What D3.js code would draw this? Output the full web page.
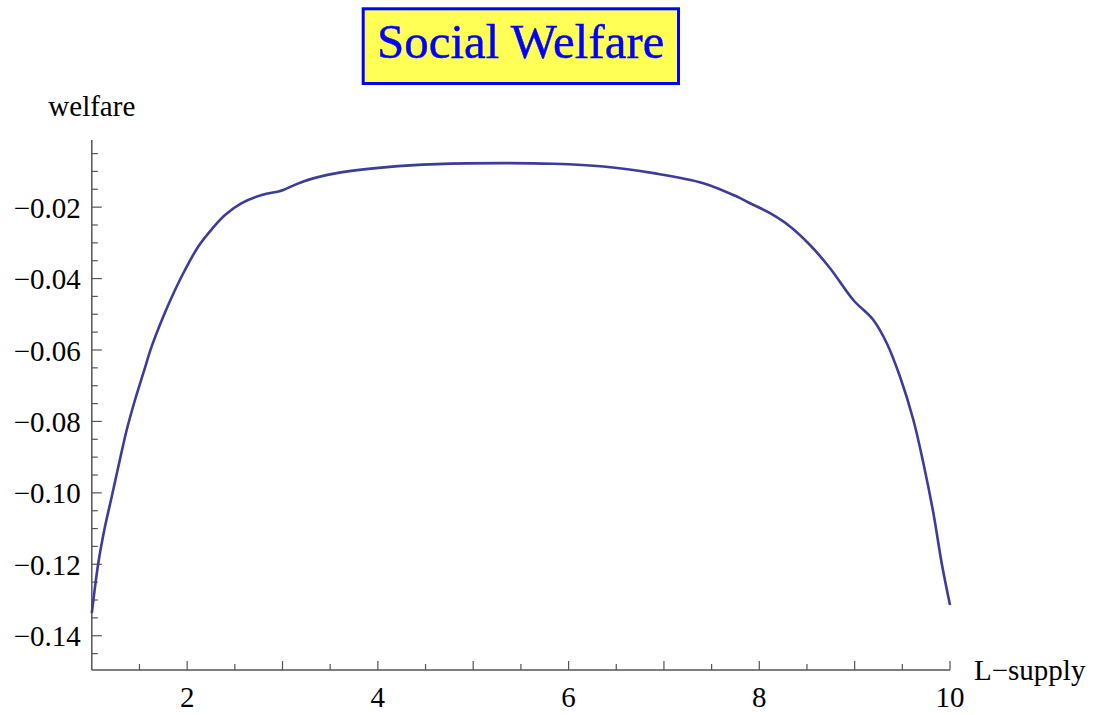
<!DOCTYPE html>
<html>
<head>
<meta charset="utf-8">
<script src="https://cdn.jsdelivr.net/npm/d3@7"></script>
<style>
  body { margin: 0; background: #fff; }
  svg text { font-family: "Liberation Serif", "DejaVu Serif", serif; }
</style>
</head>
<body>
<script>
// Valores (L-supply vs welfare)
const supply = [1.0, 1.068, 1.138, 1.209, 1.278, 1.366, 1.453, 1.54, 1.628, 1.75, 1.873, 1.977,
  2.117, 2.257, 2.397, 2.572, 2.782, 2.956, 3.008, 3.218, 3.568, 4.093, 4.617, 5.316, 5.84,
  6.364, 6.889, 7.413, 7.764, 7.903, 8.113, 8.322, 8.532, 8.742, 8.986, 9.196, 9.337, 9.476,
  9.616, 9.721, 9.826, 9.913, 10.0];
const welfare = [-0.1337, -0.1197, -0.1095, -0.1011, -0.0927, -0.0824, -0.074, -0.0665, -0.059,
  -0.0506, -0.0432, -0.0376, -0.031, -0.0262, -0.0222, -0.0189, -0.0166, -0.0156, -0.0152,
  -0.0128, -0.01048, -0.0088, -0.00796, -0.00768, -0.00787, -0.00863, -0.01048, -0.01328,
  -0.01703, -0.0189, -0.0217, -0.0254, -0.0306, -0.0371, -0.046, -0.0516, -0.0581, -0.0675,
  -0.0796, -0.0917, -0.1057, -0.1197, -0.1314];
const xTicks = [2, 4, 6, 8, 10];
const yTicks = [-0.02, -0.04, -0.06, -0.08, -0.10, -0.12, -0.14];

const width = 1097, height = 715;

const svg = d3.select("body").append("svg")
  .attr("width", width)
  .attr("height", height);

// Escalas
const x = d3.scaleLinear().domain([1, 10]).range([91.8, 950]);
const y = d3.scaleLinear().domain([-0.1496, -0.0012]).range([670, 140]);

const axisColor = "#555";

// Eje X con marcas hacia dentro
const xAxis = svg.append("g").attr("transform", `translate(0,${y.range()[0]})`);
xAxis.append("line")
  .attr("x1", x.range()[0]).attr("x2", x.range()[1])
  .attr("stroke", axisColor).attr("stroke-width", 1.5);
const xMinor = d3.range(1.5, 10.01, 0.5);
xAxis.selectAll("line.tick")
  .data(xMinor)
  .enter().append("line")
  .attr("class", "tick")
  .attr("x1", d => x(d)).attr("x2", d => x(d))
  .attr("y1", 0).attr("y2", d => Number.isInteger(d) ? -9 : -6)
  .attr("stroke", axisColor).attr("stroke-width", 1.2);
xAxis.selectAll("text")
  .data(xTicks)
  .enter().append("text")
  .attr("x", d => x(d)).attr("y", 37)
  .attr("text-anchor", "middle")
  .attr("font-size", 29)
  .text(d => d);

// Eje Y con marcas hacia dentro
const yAxis = svg.append("g").attr("transform", `translate(${x.range()[0]},0)`);
yAxis.append("line")
  .attr("y1", y.range()[0]).attr("y2", y.range()[1])
  .attr("stroke", axisColor).attr("stroke-width", 1.5);
const yMinor = d3.range(1, 30).map(i => -0.005 * i);
yAxis.selectAll("line.tick")
  .data(yMinor)
  .enter().append("line")
  .attr("class", "tick")
  .attr("x1", 0).attr("x2", (d, i) => (i + 1) % 4 === 0 ? 10 : 6)
  .attr("y1", d => y(d)).attr("y2", d => y(d))
  .attr("stroke", axisColor).attr("stroke-width", 1.2);
yAxis.selectAll("text")
  .data(yTicks)
  .enter().append("text")
  .attr("x", -11).attr("y", d => y(d) + 10.5)
  .attr("text-anchor", "end")
  .attr("font-size", 29)
  .text(d => "\u2212" + Math.abs(d).toFixed(2));

// Etiquetas de los ejes
svg.append("text")
  .attr("x", x.range()[0]).attr("y", 116)
  .attr("text-anchor", "middle")
  .attr("font-size", 29)
  .text("welfare");
svg.append("text")
  .attr("x", 974).attr("y", 680)
  .attr("font-size", 29)
  .text("L\u2212supply");

// Curva
const line = d3.line()
  .x((d, i) => x(supply[i]))
  .y(d => y(d))
  .curve(d3.curveCatmullRom.alpha(0.5));
svg.append("path")
  .datum(welfare)
  .attr("d", line)
  .attr("fill", "none")
  .attr("stroke", "#3c3c99")
  .attr("stroke-width", 2.6)
  .attr("stroke-linejoin", "round");

// Título con recuadro
svg.append("rect")
  .attr("x", 363.2).attr("y", 8.8)
  .attr("width", 315.3).attr("height", 74.7)
  .attr("fill", "#ffff55")
  .attr("stroke", "#0000ff")
  .attr("stroke-width", 3);
svg.append("text")
  .attr("x", 520.8).attr("y", 58)
  .attr("text-anchor", "middle")
  .attr("font-size", 49)
  .attr("fill", "#0000ff")
  .attr("stroke", "#0000ff")
  .attr("stroke-width", 0.4)
  .text("Social Welfare");
</script>
</body>
</html>
